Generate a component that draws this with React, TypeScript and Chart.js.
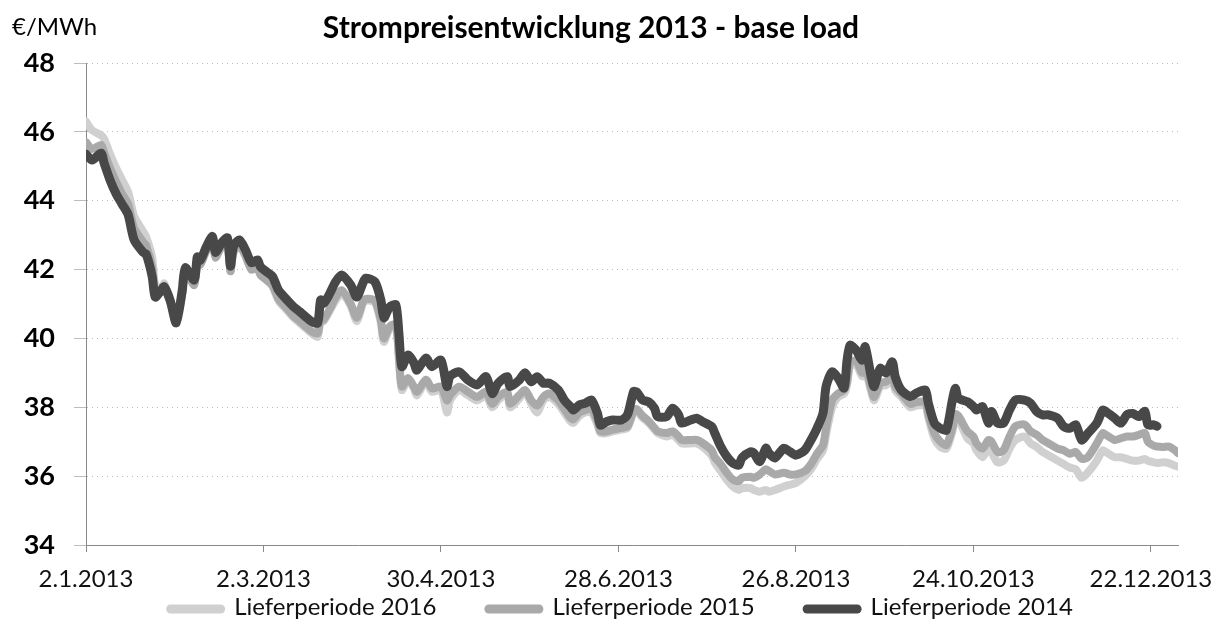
import React, { useEffect, useRef } from "react";
import { Chart, registerables } from "chart.js";

Chart.register(...registerables);

const TITLE = "Strompreisentwicklung 2013 - base load";
const UNIT = "€/MWh";
const SERIES_LABELS = ["Lieferperiode 2016", "Lieferperiode 2015", "Lieferperiode 2014"];
const SERIES_COLORS = ["#d0d0d0", "#a9a9a9", "#484848"];

// day offsets from 2.1.2013
const DAYS = [
  0, 2, 5, 6, 8, 10, 12, 14, 16, 19, 20, 22, 23, 25, 26, 28, 30, 32, 33, 36,
  37, 38, 40, 42, 43, 45, 47, 48, 49, 51, 53, 55, 57, 58, 60, 62, 64, 67, 69, 71,
  73, 75, 77, 78, 79, 81, 83, 85, 88, 90, 92, 93, 96, 98, 99, 101, 103, 104, 105, 107,
  109, 110, 113, 115, 118, 120, 121, 124, 127, 130, 133, 135, 137, 140, 141, 144, 146, 148, 150, 152,
  154, 157, 159, 161, 162, 164, 166, 168, 170, 171, 173, 175, 178, 180, 182, 183, 185, 187, 189, 190,
  193, 195, 197, 198, 201, 203, 205, 208, 209, 211, 213, 215, 217, 218, 221, 222, 224, 226, 227, 229,
  232, 234, 236, 239, 241, 243, 245, 246, 248, 250, 252, 253, 254, 256, 258, 259, 261, 262, 264, 266,
  268, 269, 271, 274, 276, 279, 280, 282, 284, 286, 288, 289, 290, 293, 295, 296, 298, 300, 301, 303,
  305, 307, 309, 312, 314, 316, 318, 320, 323, 325, 327, 329, 331, 333, 336, 338, 339, 342, 344, 346,
  348, 350, 352, 353, 355, 356, 358, 360, 362, 363,
];

const P2014 = [
  45.35, 45.18, 45.38, 45.1, 44.6, 44.2, 43.9, 43.6, 42.86, 42.5, 42.45, 41.8, 41.2, 41.4, 41.5, 41.1, 40.45, 41.4, 42.05, 41.7,
  42.37, 42.27, 42.66, 42.96, 42.5, 42.77, 42.92, 42.1, 42.66, 42.86, 42.57, 42.2, 42.28, 42.08, 41.94, 41.8, 41.4, 41.1, 40.92, 40.78,
  40.63, 40.49, 40.45, 41.12, 41.02, 41.3, 41.65, 41.84, 41.55, 41.2, 41.6, 41.75, 41.65, 41.12, 40.6, 40.92, 40.97, 40.16, 39.18, 39.52,
  39.29, 39.08, 39.43, 39.18, 39.37, 38.6, 38.9, 39.03, 38.79, 38.65, 38.89, 38.4, 38.7, 38.89, 38.6, 38.79, 39.0, 38.74, 38.89, 38.7,
  38.7, 38.5, 38.21, 38.02, 37.92, 38.07, 38.12, 38.21, 37.83, 37.48, 37.58, 37.63, 37.63, 37.78, 38.45, 38.45, 38.21, 38.16, 37.97, 37.73,
  37.73, 37.97, 37.78, 37.54, 37.63, 37.68, 37.58, 37.44, 37.25, 36.86, 36.57, 36.38, 36.32, 36.53, 36.71, 36.67, 36.42, 36.81, 36.67, 36.53,
  36.81, 36.71, 36.61, 36.76, 37.05, 37.39, 37.83, 38.6, 39.03, 38.85, 38.56, 39.37, 39.8, 39.66, 39.37, 39.76, 38.89, 38.6, 39.13, 39.0,
  39.32, 38.89, 38.5, 38.31, 38.41, 38.5, 38.12, 37.54, 37.39, 37.34, 38.21, 38.55, 38.26, 38.16, 38.02, 37.92, 38.02, 37.54, 37.88, 37.54,
  37.54, 37.92, 38.21, 38.21, 38.12, 37.88, 37.78, 37.78, 37.68, 37.44, 37.39, 37.49, 37.05, 37.24, 37.54, 37.92, 37.88, 37.68, 37.54, 37.78,
  37.82, 37.73, 37.88, 37.49, 37.49, 37.45,
];

const P2015 = [
  45.7, 45.5, 45.62, 45.4, 44.95, 44.55, 44.2, 43.9, 43.2, 42.8, 42.7, 42.05, 41.3, 41.35, 41.45, 41.05, 40.55, 41.3, 41.95, 41.55,
  42.25, 42.15, 42.55, 42.85, 42.35, 42.65, 42.75, 41.95, 42.5, 42.7, 42.4, 42.0, 42.05, 41.85, 41.7, 41.55, 41.15, 40.85, 40.65, 40.5,
  40.35, 40.2, 40.15, 40.6, 40.55, 40.85, 41.2, 41.4, 41.0, 40.6, 41.05, 41.15, 41.1, 40.55, 40.0, 40.35, 40.4, 39.5, 38.6, 38.85,
  38.6, 38.45, 38.8, 38.55, 38.6, 38.2, 38.35, 38.6, 38.45, 38.3, 38.45, 38.1, 38.3, 38.45, 38.1, 38.35, 38.5, 38.2, 38.05, 38.3,
  38.4, 38.2, 37.95, 37.7, 37.65, 37.85, 37.92, 37.95, 37.6, 37.3, 37.3, 37.35, 37.4, 37.45, 37.9, 37.95, 37.75, 37.6, 37.4, 37.3,
  37.25, 37.3, 37.15, 37.05, 37.05, 37.05, 36.96, 36.75, 36.55, 36.35, 36.1, 35.9, 35.85, 35.95, 35.98, 35.95, 36.05, 36.2, 36.15, 36.05,
  36.1, 36.05, 36.05, 36.15, 36.35, 36.65, 36.9, 37.4, 38.2, 38.4, 38.5, 38.75, 39.3, 39.35, 39.0, 39.2, 38.55, 38.3, 38.7, 38.75,
  38.9, 38.6, 38.4, 38.1, 38.15, 38.15, 37.8, 37.25, 37.0, 36.9, 37.4, 37.8, 37.75, 37.3, 37.15, 36.95, 36.8, 37.05, 37.0, 36.7,
  36.75, 37.15, 37.45, 37.5, 37.3, 37.2, 37.05, 36.95, 36.8, 36.75, 36.65, 36.7, 36.5, 36.55, 36.95, 37.25, 37.2, 37.05, 37.1, 37.15,
  37.15, 37.2, 37.25, 37.0, 36.88, 36.86, 36.85, 36.86, 36.75, 36.67,
];

const P2016 = [
  46.3, 46.05, 45.9, 45.8, 45.35, 44.95, 44.6, 44.25, 43.55, 43.1, 42.95, 42.35, 41.55, 41.45, 41.6, 41.1, 40.6, 41.35, 41.95, 41.6,
  42.25, 42.15, 42.55, 42.85, 42.4, 42.65, 42.8, 41.95, 42.5, 42.7, 42.4, 42.0, 42.05, 41.85, 41.7, 41.5, 41.1, 40.8, 40.6, 40.45,
  40.3, 40.15, 40.05, 40.55, 40.5, 40.8, 41.1, 41.3, 40.95, 40.5, 41.0, 41.1, 41.05, 40.45, 39.9, 40.3, 40.35, 39.4, 38.5, 38.8,
  38.55, 38.35, 38.75, 38.45, 38.5, 37.85, 38.2, 38.5, 38.35, 38.2, 38.35, 38.0, 38.2, 38.4, 38.0, 38.25, 38.45, 38.1, 37.85, 38.2,
  38.3, 38.1, 37.85, 37.6, 37.55, 37.75, 37.85, 37.85, 37.5, 37.25, 37.25, 37.3, 37.35, 37.4, 37.85, 37.9, 37.7, 37.55, 37.35, 37.25,
  37.15, 37.2, 37.05, 36.95, 36.95, 36.95, 36.85, 36.6, 36.4, 36.15, 35.9, 35.7, 35.6, 35.65, 35.65, 35.6, 35.55, 35.6, 35.55, 35.6,
  35.7, 35.75, 35.8, 36.0, 36.2, 36.5, 36.75, 37.2, 38.0, 38.3, 38.4, 38.65, 39.2, 39.25, 38.9, 39.1, 38.45, 38.2, 38.6, 38.65,
  38.8, 38.5, 38.3, 38.0, 38.05, 38.05, 37.7, 37.1, 36.85, 36.8, 37.3, 37.7, 37.65, 37.1, 36.95, 36.75, 36.55, 36.8, 36.7, 36.4,
  36.45, 36.8, 37.05, 37.15, 36.95, 36.85, 36.7, 36.6, 36.45, 36.35, 36.25, 36.2, 35.95, 36.1, 36.45, 36.75, 36.7, 36.55, 36.55, 36.5,
  36.45, 36.45, 36.5, 36.45, 36.4, 36.38, 36.4, 36.38, 36.3, 36.28,
];

const X_TICK_DAYS = [0, 59, 118, 177, 236, 295, 354];
const X_TICK_LABELS = ["2.1.2013", "2.3.2013", "30.4.2013", "28.6.2013", "26.8.2013", "24.10.2013", "22.12.2013"];
const Y_MIN = 34;
const Y_MAX = 48;
const Y_STEP = 2;
const X_MAX = 363;

const FONT = "Lato, 'Open Sans', sans-serif";

const toPoints = (vals: number[]) => vals.map((v, i) => ({ x: DAYS[i], y: v }));

const overlayPlugin = {
  id: "overlay",
  afterDraw(chart: any) {
    const ctx = chart.ctx;
    ctx.save();
    ctx.fillStyle = "#000";
    ctx.textBaseline = "alphabetic";
    ctx.font = `bold 30px ${FONT}`;
    ctx.textAlign = "center";
    ctx.fillText(TITLE, 591, 38);
    ctx.font = `24px ${FONT}`;
    ctx.textAlign = "left";
    ctx.fillText(UNIT, 12, 35);

    // legend
    const symW = 59;
    const symH = 9;
    const gap = 9;
    const itemGap = 48;
    ctx.font = `24px ${FONT}`;
    const items = chart.data.datasets.map((ds: any) => ({
      label: ds.label as string,
      color: ds.borderColor as string,
      w: ctx.measureText(ds.label).width,
    }));
    let total = 0;
    items.forEach((it: any, i: number) => {
      total += symW + gap + it.w + (i < items.length - 1 ? itemGap : 0);
    });
    let x = (chart.width - total) / 2 + 11;
    const yc = 609;
    items.forEach((it: any) => {
      ctx.fillStyle = it.color;
      ctx.beginPath();
      if (ctx.roundRect) ctx.roundRect(x, yc - symH / 2, symW, symH, symH / 2);
      else ctx.rect(x, yc - symH / 2, symW, symH);
      ctx.fill();
      ctx.fillStyle = "#111";
      ctx.fillText(it.label, x + symW + gap, yc + 6);
      x += symW + gap + it.w + itemGap;
    });
    ctx.restore();
  },
};

export default function App() {
  const ref = useRef<HTMLCanvasElement | null>(null);
  useEffect(() => {
    if (!ref.current) return;
    const series = [P2016, P2015, P2014];
    const chart = new Chart(ref.current, {
      type: "line",
      data: {
        datasets: series.map((vals, i) => ({
          label: SERIES_LABELS[i],
          data: toPoints(vals),
          borderColor: SERIES_COLORS[i],
          backgroundColor: SERIES_COLORS[i],
          borderWidth: i === 2 ? 9 : 8,
          pointRadius: 0,
          tension: 0.25,
          borderCapStyle: "round",
          borderJoinStyle: "round",
          order: 2 - i,
        })),
      },
      options: {
        animation: false,
        responsive: true,
        maintainAspectRatio: false,
        layout: { padding: { top: 63, right: 39, bottom: 0, left: 0 } },
        plugins: {
          legend: { display: false },
          title: { display: false },
          tooltip: { enabled: false },
        },
        scales: {
          x: {
            type: "linear",
            min: 0,
            max: X_MAX,
            afterBuildTicks: (s: any) => {
              s.ticks = X_TICK_DAYS.map((v) => ({ value: v }));
            },
            afterFit: (s: any) => {
              s.height = 76;
              s.paddingLeft = 0;
              s.paddingRight = 0;
            },
            ticks: {
              autoSkip: false,
              maxRotation: 0,
              padding: 13,
              color: "#111",
              font: { family: FONT, size: 24 },
              callback: (v: any) => {
                const idx = X_TICK_DAYS.indexOf(Number(v));
                return idx >= 0 ? X_TICK_LABELS[idx] : "";
              },
            },
            grid: {
              drawOnChartArea: false,
              drawTicks: true,
              tickLength: 7,
              color: "#8a8a8a",
            },
            border: { display: true, color: "#8a8a8a", width: 1 },
          },
          y: {
            min: Y_MIN,
            max: Y_MAX,
            afterFit: (s: any) => {
              s.width = 86;
              s.paddingTop = 0;
              s.paddingBottom = 0;
            },
            ticks: {
              stepSize: Y_STEP,
              padding: 19,
              color: "#000",
              font: { family: FONT, size: 27, weight: "bold" },
            },
            grid: {
              color: "#bdbdbd",
              tickLength: 12,
              drawTicks: true,
            },
            border: { display: true, color: "#8a8a8a", width: 1, dash: [1, 4] },
          },
        },
      },
      plugins: [overlayPlugin],
    });
    return () => chart.destroy();
  }, []);
  return (
    <div style={{ position: "fixed", left: 0, top: 0, width: 1217, height: 621, background: "#fff" }}>
      <canvas ref={ref} />
    </div>
  );
}
